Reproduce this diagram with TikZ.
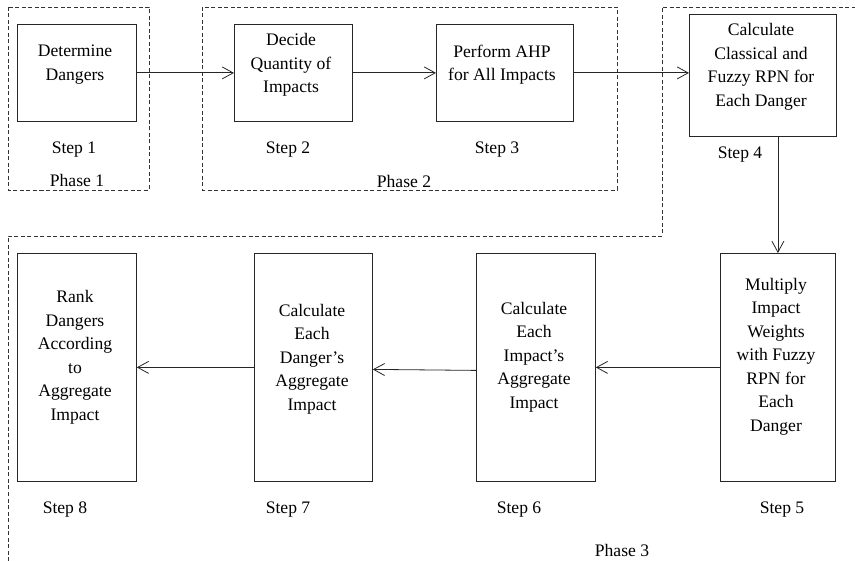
\documentclass[tikz,border=0pt]{standalone}
\usepackage{fontspec}
\setmainfont{Liberation Serif}
\usetikzlibrary{arrows.meta}
\begin{document}
\begin{tikzpicture}[x=1pt,y=-1pt,
  stepbox/.style={draw=black!85, line width=0.8pt, inner sep=0pt, anchor=north west},
  txt/.style={align=center, inner sep=0pt, font=\fontsize{17.6}{23.5}\selectfont},
  phase/.style={draw=black!80, line width=0.8pt, dash pattern=on 4pt off 2.5pt},
  arr/.style={draw=black!85, line width=0.8pt, -{Straight Barb[length=11pt,width=12pt]}}]
\useasboundingbox (0,0) rectangle (855,561);
% phases
\draw[phase] (8,7) rectangle (149,190);
\draw[phase] (202,7) rectangle (617,190);
\draw[phase] (8,561) -- (8,236) -- (662,236) -- (662,7) -- (856,7);
% boxes
\node[stepbox, minimum width=119pt, minimum height=97pt] (b1) at (17,24) {};
\node[stepbox, minimum width=118pt, minimum height=97pt] (b2) at (234,24) {};
\node[stepbox, minimum width=137pt, minimum height=97pt] (b3) at (436,24) {};
\node[stepbox, minimum width=147pt, minimum height=122pt] (b4) at (689,14) {};
\node[stepbox, minimum width=115pt, minimum height=228pt] (b5) at (720,253) {};
\node[stepbox, minimum width=119pt, minimum height=228pt] (b6) at (476,253) {};
\node[stepbox, minimum width=118pt, minimum height=228pt] (b7) at (254,253) {};
\node[stepbox, minimum width=119pt, minimum height=228pt] (b8) at (17,253) {};
% texts
\node[txt] (t1) at (75,64.5) {Determine\\Dangers};
\node[txt] (t2) at (291,65) {Decide\\Quantity of\\Impacts};
\node[txt] (t3) at (502,64.5) {Perform AHP\\for All Impacts};
\node[txt] (t4) at (761,67) {Calculate\\Classical and\\Fuzzy RPN for\\Each Danger};
\node[txt] (t5) at (776,356.5) {Multiply\\Impact\\Weights\\with Fuzzy\\RPN for\\Each\\Danger};
\node[txt] (t6) at (534,357) {Calculate\\Each\\Impact’s\\Aggregate\\Impact};
\node[txt] (t7) at (312,359) {Calculate\\Each\\Danger’s\\Aggregate\\Impact};
\node[txt] (t8) at (75,357.5) {Rank\\Dangers\\According\\to\\Aggregate\\Impact};
% step labels
\node[txt] (s1) at (74,150) {Step 1};
\node[txt] (s2) at (288,150) {Step 2};
\node[txt] (s3) at (497,150) {Step 3};
\node[txt] (s4) at (740,155) {Step 4};
\node[txt] (s5) at (782,510) {Step 5};
\node[txt] (s6) at (519,510) {Step 6};
\node[txt] (s7) at (288,510) {Step 7};
\node[txt] (s8) at (65,510) {Step 8};
% phase labels
\node[txt] (p1) at (77,180) {Phase 1};
\node[txt] (p2) at (404,181) {Phase 2};
\node[txt] (p3) at (622,550) {Phase 3};
% arrows
\draw[arr] (b1.east) -- (b2.west);
\draw[arr] (b2.east) -- (b3.west);
\draw[arr] (b3.east) -- (b3.east -| b4.west);
\draw[arr] (b5.north |- b4.south) -- (b5.north);
\draw[arr] (b5.west) -- (b6.east);
\draw[arr] ([yshift=-3pt]b6.west) -- ([yshift=-2pt]b7.east);
\draw[arr] (b7.west) -- (b8.east);
\end{tikzpicture}
\end{document}
